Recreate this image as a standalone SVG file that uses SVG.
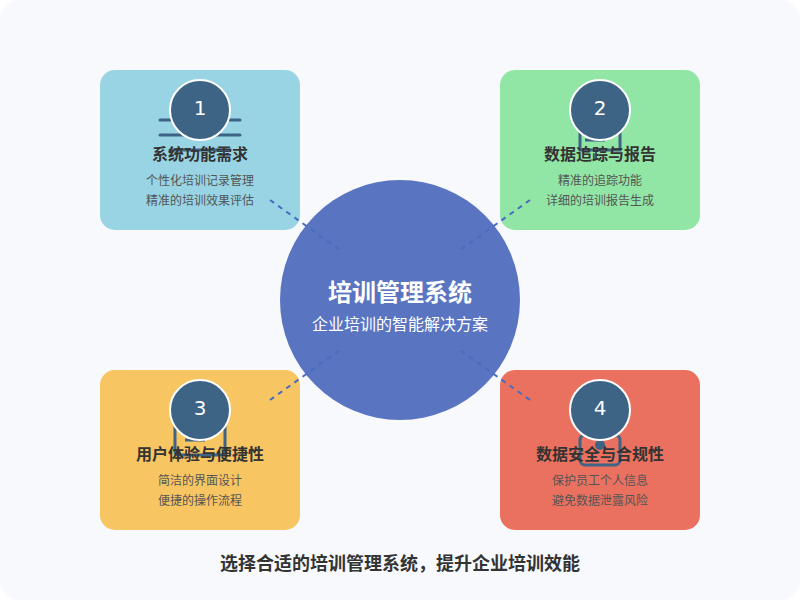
<svg xmlns="http://www.w3.org/2000/svg" width="800" height="600" viewBox="0 0 800 600">
<style>
text{text-anchor:middle;font-family:"Liberation Sans","Noto Sans CJK SC",sans-serif}
.t{font-size:16px;font-weight:bold;fill:#333}
.d{font-size:12px;fill:#555}
.n{font-size:20px;fill:#fff;font-family:"DejaVu Sans","Liberation Sans",sans-serif}
.b{fill:#3d6385;stroke:#fff;stroke-width:2}
.i{fill:none;stroke:#3d6385;stroke-width:3;stroke-linecap:round}
.c{fill:none;stroke:#4a6bc0;stroke-width:2;stroke-dasharray:5 5}
</style>
<rect width="800" height="600" rx="20" fill="#f7f9fc"/>
<g id="card1"><rect x="100" y="70" width="200" height="160" rx="15" fill="#98d4e3"/>
<path class="i" d="M160 120H240M160 135H240M170 150H230"/>
<circle class="b" cx="200" cy="110" r="30"/><text class="n" x="200" y="115">1</text>
<text class="t" x="200" y="160">系统功能需求</text>
<text class="d" x="200" y="185">个性化培训记录管理</text><text class="d" x="200" y="205">精准的培训效果评估</text></g>
<g id="card2"><rect x="500" y="70" width="200" height="160" rx="15" fill="#91e5a5"/>
<rect class="i" x="580" y="120" width="40" height="30" stroke-linecap="butt" style="stroke-linecap:butt"/><path class="i" d="M585 140H605" style="stroke-linecap:butt"/>
<circle class="b" cx="600" cy="110" r="30"/><text class="n" x="600" y="115">2</text>
<text class="t" x="600" y="160">数据追踪与报告</text>
<text class="d" x="600" y="185">精准的追踪功能</text><text class="d" x="600" y="205">详细的培训报告生成</text></g>
<g id="card3"><rect x="100" y="370" width="200" height="160" rx="15" fill="#f7c562"/>
<rect class="i" x="175" y="415" width="50" height="40" rx="3"/><path class="i" d="M185 440H205" style="stroke-linecap:butt"/>
<circle class="b" cx="200" cy="410" r="30"/><text class="n" x="200" y="415">3</text>
<text class="t" x="200" y="460">用户体验与便捷性</text>
<text class="d" x="200" y="485">简洁的界面设计</text><text class="d" x="200" y="505">便捷的操作流程</text></g>
<g id="card4"><rect x="500" y="370" width="200" height="160" rx="15" fill="#ea715f"/>
<rect class="i" x="580" y="435" width="40" height="30" rx="5"/><circle cx="600" cy="445" r="5" fill="#3d6385"/>
<circle class="b" cx="600" cy="410" r="30"/><text class="n" x="600" y="415">4</text>
<text class="t" x="600" y="460">数据安全与合规性</text>
<text class="d" x="600" y="485">保护员工个人信息</text><text class="d" x="600" y="505">避免数据泄露风险</text></g>
<g id="center"><circle cx="400" cy="300" r="120" fill="#5975c2"/>
<text x="400" y="301" font-size="24" font-weight="bold" fill="#fff" style="font-size:24px">培训管理系统</text>
<text x="400" y="330" fill="#fff" style="font-size:16px">企业培训的智能解决方案</text></g>
<g id="connectors">
<path class="c" d="M270 200L340 250"/><path class="c" d="M530 200L460 250"/><path class="c" d="M270 400L340 350"/><path class="c" d="M530 400L460 350"/>
</g>
<text id="footer" x="400" y="570" fill="#333" font-weight="bold" style="font-size:18px">选择合适的培训管理系统，提升企业培训效能</text>
</svg>
